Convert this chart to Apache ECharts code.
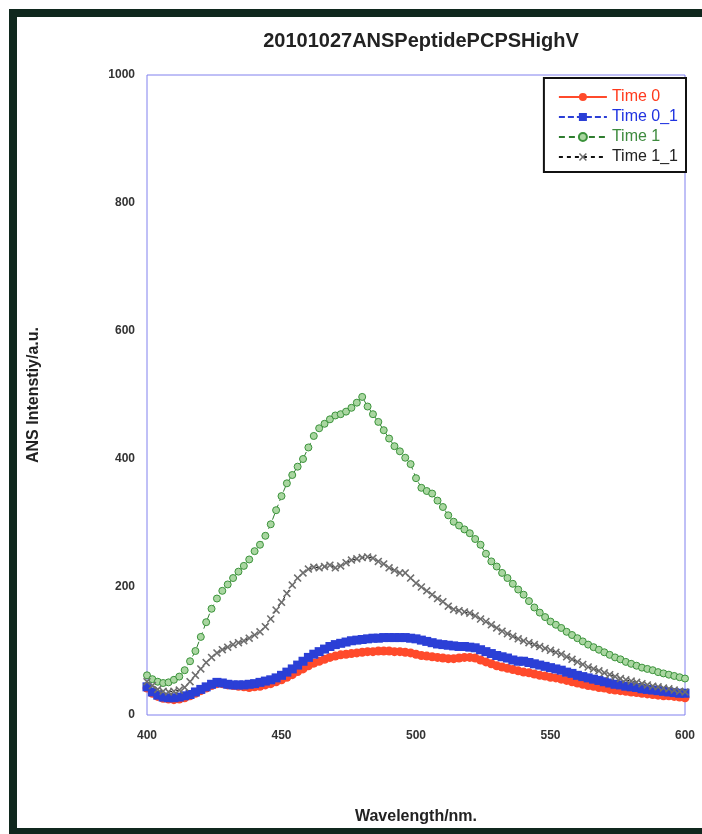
<!DOCTYPE html>
<html>
<head>
<meta charset="utf-8">
<script src="https://cdn.jsdelivr.net/npm/echarts@6/dist/echarts.min.js"></script>
<style>
  html, body { margin: 0; padding: 0; background: #fff; }
  #chart { width: 702px; height: 834px; }
</style>
</head>
<body>
<div id="chart"></div>
<script>
// Emission wavelengths (nm), sampled every 2 nm
const wavelengths = [
  400,402,404,406,408,410,412,414,416,418,420,422,424,426,428,430,432,434,436,438,
  440,442,444,446,448,450,452,454,456,458,460,462,464,466,468,470,472,474,476,478,
  480,482,484,486,488,490,492,494,496,498,500,502,504,506,508,510,512,514,516,518,
  520,522,524,526,528,530,532,534,536,538,540,542,544,546,548,550,552,554,556,558,
  560,562,564,566,568,570,572,574,576,578,580,582,584,586,588,590,592,594,596,598,600
];

// ANS intensity (a.u.) for each run
const time0 = [
  42,34,29,26,25,24,25,27,30,34,38,42,46,49,49,47,46,45,44,43,
  44,45,47,49,52,55,59,63,68,72,77,81,84,87,90,92,94,95,96,97,
  98,99,99,100,100,100,99,99,98,97,95,93,92,91,90,89,88,88,89,90,
  90,89,86,83,80,77,75,73,71,69,67,66,64,62,61,59,58,56,54,52,
  50,48,46,45,43,42,40,39,38,37,36,35,34,33,32,31,30,30,29,28,27
];
const time0_1 = [
  44,36,31,28,27,27,28,30,32,36,40,44,48,51,50,48,47,47,47,48,
  49,51,53,55,58,62,67,72,78,84,90,95,99,103,107,110,112,114,116,117,
  118,119,120,120,121,121,121,121,121,120,119,117,115,113,111,110,109,108,107,107,
  106,105,102,99,96,93,91,89,86,84,84,82,80,78,76,74,72,70,67,65,
  62,60,58,56,54,52,50,48,47,45,44,43,41,40,39,38,37,36,35,34,34
];
const time1 = [
  62,56,52,50,51,55,60,70,84,100,122,145,166,182,194,204,214,224,233,243,
  256,266,280,298,320,342,362,375,388,400,418,436,448,455,462,468,470,474,480,488,
  497,482,470,458,445,432,420,412,402,392,370,355,350,346,335,325,312,302,296,290,
  284,275,266,252,240,232,222,214,205,196,188,178,168,160,153,146,141,136,130,125,
  120,115,110,106,102,98,94,90,87,83,80,77,74,72,70,67,65,63,61,59,57
];
const time1_1 = [
  52,46,40,37,36,37,39,43,52,62,72,82,90,97,102,106,110,113,116,120,
  125,130,138,150,164,176,190,203,214,222,228,231,230,232,234,230,233,238,242,244,
  246,247,245,240,236,230,226,222,222,214,206,200,194,188,182,177,170,165,163,161,
  159,155,150,146,141,136,131,127,123,119,116,113,110,107,104,101,98,95,91,87,
  83,79,75,72,69,66,63,60,57,55,53,51,49,47,45,44,42,41,39,37,36
];

const seriesNames = ['Time 0', 'Time 0_1', 'Time 1', 'Time 1_1'];
const yTicks = [0, 200, 400, 600, 800, 1000];
const xTicks = [400, 450, 500, 550, 600];

const FONT = '"Liberation Sans", Arial, sans-serif';
const xMark = 'path://M0,1.4L1.4,0L5,3.6L8.6,0L10,1.4L6.4,5L10,8.6L8.6,10L5,6.4L1.4,10L0,8.6L3.6,5Z';

function pairs(ys) { return wavelengths.map((w, i) => [w, ys[i]]); }

const chart = echarts.init(document.getElementById('chart'), null, { renderer: 'canvas' });

chart.setOption({
  animation: false,
  backgroundColor: '#ffffff',
  title: {
    text: '20101027ANSPeptidePCPSHighV',
    left: 416,
    textAlign: 'center',
    top: 26,
    textStyle: { fontFamily: FONT, fontSize: 20, fontWeight: 'bold', color: '#222' }
  },
  graphic: [
    {
      type: 'rect',
      shape: { x: 13, y: 13, width: 710, height: 819 },
      style: { fill: 'none', stroke: '#10281e', lineWidth: 8 },
      silent: true
    }
  ],
  legend: {
    orient: 'vertical',
    right: 16,
    top: 78,
    padding: [11, 8, 7, 14],
    itemGap: 4,
    itemWidth: 48,
    itemHeight: 10,
    backgroundColor: '#fff',
    borderColor: '#111',
    borderWidth: 2,
    textStyle: { fontFamily: FONT, fontSize: 16 },
    data: [
      { name: seriesNames[0], textStyle: { color: '#ff3a1c' } },
      { name: seriesNames[1], textStyle: { color: '#1f33e0' } },
      { name: seriesNames[2], textStyle: { color: '#3d8a3d' } },
      { name: seriesNames[3], textStyle: { color: '#222' } }
    ]
  },
  grid: {
    left: 147, right: 17, top: 75, bottom: 119,
    show: true, borderColor: '#8080ee', borderWidth: 1, backgroundColor: 'transparent'
  },
  xAxis: {
    type: 'value', min: xTicks[0], max: xTicks[xTicks.length - 1], interval: 50,
    name: 'Wavelength/nm.', nameLocation: 'middle', nameGap: 94,
    nameTextStyle: { fontFamily: FONT, fontSize: 16, fontWeight: 'bold', color: '#222' },
    axisLine: { show: false }, axisTick: { show: false }, splitLine: { show: false },
    axisLabel: { margin: 15, fontFamily: FONT, fontSize: 12, fontWeight: 'bold', color: '#333',
      formatter: v => String(v) }
  },
  yAxis: {
    type: 'value', min: yTicks[0], max: yTicks[yTicks.length - 1], interval: 200,
    name: 'ANS Intenstiy/a.u.', nameLocation: 'middle', nameGap: 105,
    nameTextStyle: { fontFamily: FONT, fontSize: 16, fontWeight: 'bold', color: '#222' },
    axisLine: { show: false }, axisTick: { show: false }, splitLine: { show: false },
    axisLabel: { margin: 12, fontFamily: FONT, fontSize: 12, fontWeight: 'bold', color: '#333',
      formatter: v => String(v) }
  },
  series: [
    {
      name: seriesNames[0], type: 'line', data: pairs(time0),
      symbol: 'circle', symbolSize: 9, showAllSymbol: true,
      lineStyle: { color: '#ff4a2b', width: 1 },
      itemStyle: { color: '#ff4a2b' }
    },
    {
      name: seriesNames[1], type: 'line', data: pairs(time0_1),
      symbol: 'rect', symbolSize: 9, showAllSymbol: true,
      lineStyle: { color: '#2b3fd6', width: 1, type: [6, 3] },
      itemStyle: { color: '#2b3fd6' }
    },
    {
      name: seriesNames[2], type: 'line', data: pairs(time1),
      symbol: 'circle', symbolSize: 7, showAllSymbol: true,
      lineStyle: { color: '#2f7d2f', width: 1, type: [6, 4] },
      itemStyle: { color: '#a9d6a0', borderColor: '#3b933b', borderWidth: 1 }
    },
    {
      name: seriesNames[3], type: 'line', data: pairs(time1_1),
      symbol: xMark, symbolSize: 8, showAllSymbol: true,
      lineStyle: { color: '#111', width: 1, type: [4, 4] },
      itemStyle: { color: '#6e6e6e' }
    }
  ]
});
</script>
</body>
</html>
